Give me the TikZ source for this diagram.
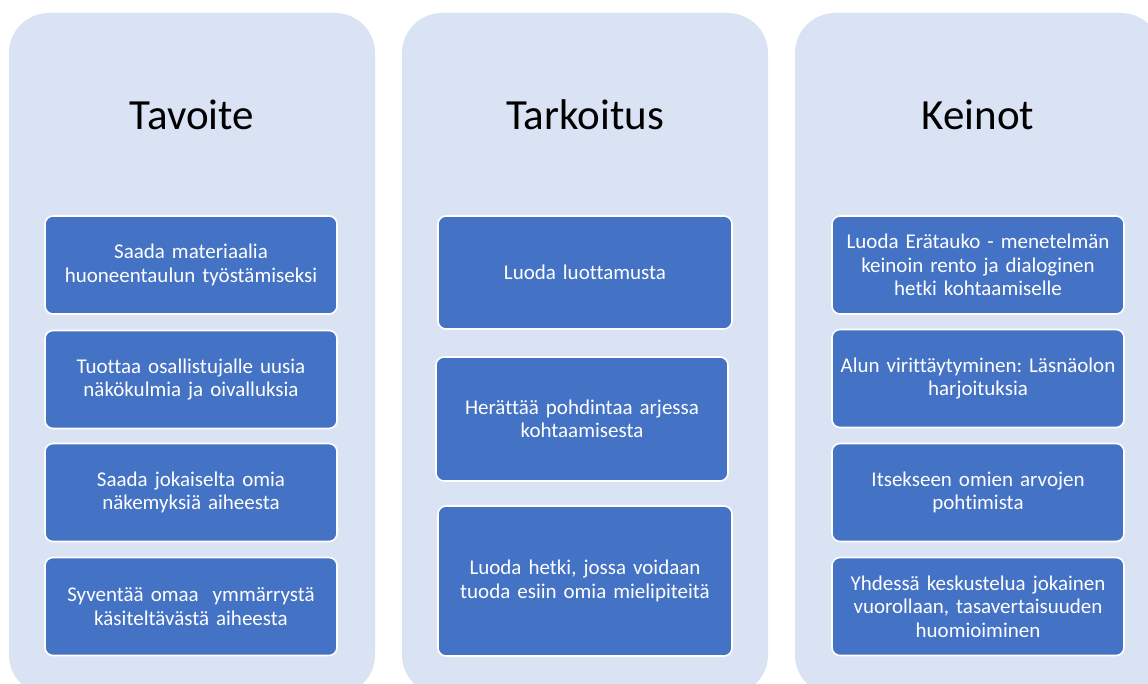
\documentclass[tikz,border=0pt]{standalone}
\usepackage{fontspec}
\setmainfont{Carlito}[Ligatures=NoCommon]
\usepackage{tikz}
\usetikzlibrary{positioning}
\definecolor{colbg}{RGB}{218,227,243}
\definecolor{boxblue}{RGB}{68,114,196}
\frenchspacing
\tikzset{
  colbox/.style={fill=colbg,rounded corners=40pt},
  ttl/.style={font=\fontsize{43}{50}\selectfont,text=black,inner sep=0pt},
  itm/.style={draw=white,line width=1.6pt,fill=boxblue,rounded corners=8pt,
              text=white,align=center,text width=286pt,inner xsep=3pt,inner ysep=5pt,
              font=\fontsize{21}{23.5}\selectfont},
  itmA/.style={itm,minimum width=292pt,minimum height=98pt},
}

\begin{document}
\begin{tikzpicture}[x=1pt,y=-1pt]
  \useasboundingbox (0,0) rectangle (1148,684);
  \clip (0,0) rectangle (1148,684);

  % column backgrounds
  \fill[colbox] (9,13)   rectangle (375,695);
  \fill[colbox] (402,13) rectangle (768,695);
  \fill[colbox] (795,13) rectangle (1161,695);

  % titles
  \node[ttl] (tavoite)   at (192,115) {Tavoite};
  \node[ttl] (tarkoitus) at (585,115) {Tarkoitus};
  \node[ttl] (keinot)    at (978,115) {Keinot};

  % Tavoite
  \node[itmA] (ta1) at (191,265) {Saada materiaalia\\huoneentaulun työstämiseksi};
  \node[itmA] (ta2) at (191,379.5) {Tuottaa osallistujalle uusia\\näkökulmia ja oivalluksia};
  \node[itmA] (ta3) at (191,492.5) {Saada jokaiselta omia\\näkemyksiä aiheesta};
  \node[itmA] (ta4) at (191,606.5) {Syventää omaa\ \ ymmärrystä\\käsiteltävästä aiheesta};

  % Tarkoitus
  \node[itm,minimum width=294pt,minimum height=113pt] (tr1) at (585,272.5) {Luoda luottamusta};
  \node[itm,minimum width=292pt,minimum height=124pt] (tr2) at (582,419) {Herättää pohdintaa arjessa\\kohtaamisesta};
  \node[itm,minimum width=294pt,minimum height=150pt] (tr3) at (585,581) {Luoda hetki, jossa voidaan\\tuoda esiin omia mielipiteitä};

  % Keinot
  \node[itmA] (ke1) at (978,265) {Luoda Erätauko - menetelmän\\keinoin rento ja dialoginen\\hetki kohtaamiselle};
  \node[itmA] (ke2) at (978,378.5) {Alun virittäytyminen: Läsnäolon\\harjoituksia};
  \node[itmA] (ke3) at (978,492.5) {Itsekseen omien arvojen\\pohtimista};
  \node[itmA] (ke4) at (978,606.5) {Yhdessä keskustelua jokainen\\vuorollaan, tasavertaisuuden\\huomioiminen};
\end{tikzpicture}
\end{document}
